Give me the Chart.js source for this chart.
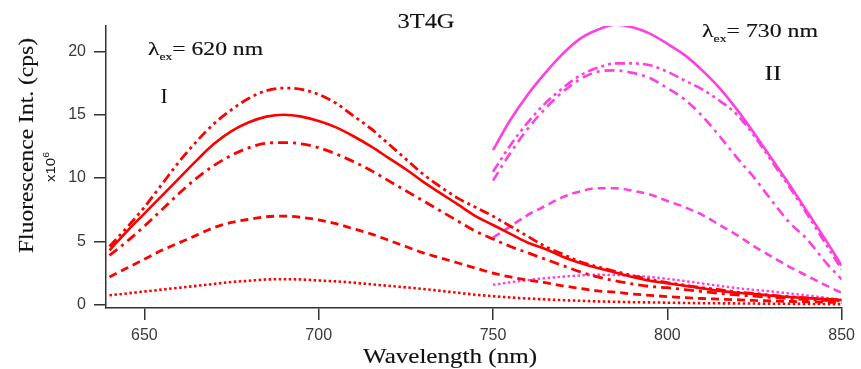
<!DOCTYPE html>
<html>
<head>
<meta charset="utf-8">
<script src="https://cdn.jsdelivr.net/npm/chart.js@4.4.1/dist/chart.umd.min.js"></script>
<style>
html,body{margin:0;padding:0;background:#fff;}
#wrap{width:861px;height:369px;position:relative;}
</style>
</head>
<body>
<div id="wrap"><canvas id="c" width="861" height="369"></canvas></div>
<script>
// ---- data ----
const wavelengthsRed = [640,645,650,655,660,665,670,675,680,685,690,695,700,705,710,715,720,725,730,735,740,745,750,755,760,765,770,775,780,785,790,795,800,805,810,815,820,825,830,835,840,845,850];
const redDashDotDot = [4.6,6.1,7.7,9.5,11.3,12.9,14.3,15.4,16.3,16.9,17.1,17.0,16.6,15.9,14.9,13.9,12.7,11.5,10.3,9.3,8.4,7.7,7.0,6.2,5.4,4.6,4.0,3.4,3.0,2.65,2.3,2.0,1.75,1.55,1.35,1.2,1.0,0.9,0.75,0.65,0.55,0.45,0.4];
const redSolid = [4.3,5.8,7.2,8.6,10.0,11.4,12.7,13.7,14.4,14.85,15.0,14.85,14.5,14.0,13.3,12.5,11.6,10.7,9.7,8.8,7.9,7.0,6.3,5.6,4.9,4.4,3.8,3.3,2.9,2.55,2.2,1.9,1.7,1.5,1.3,1.1,0.95,0.85,0.72,0.62,0.53,0.45,0.38];
const redDashDot = [3.9,5.0,6.2,7.5,8.8,10.0,11.0,11.8,12.4,12.75,12.8,12.7,12.4,11.9,11.3,10.6,9.8,9.0,8.2,7.4,6.6,5.8,5.2,4.6,4.1,3.6,3.1,2.6,2.2,1.9,1.65,1.45,1.35,1.2,1.05,0.9,0.78,0.68,0.58,0.5,0.42,0.35,0.3];
const redDashed = [2.2,2.9,3.6,4.3,4.9,5.5,6.1,6.5,6.75,6.95,7.0,6.9,6.7,6.4,6.0,5.6,5.1,4.6,4.1,3.7,3.3,2.9,2.5,2.2,1.95,1.75,1.5,1.3,1.1,1.0,0.85,0.75,0.65,0.57,0.5,0.45,0.4,0.35,0.3,0.27,0.24,0.21,0.18];
const redDotted = [0.75,0.9,1.05,1.2,1.35,1.5,1.65,1.8,1.9,2.0,2.02,2.0,1.92,1.85,1.75,1.62,1.5,1.38,1.25,1.1,0.95,0.8,0.68,0.58,0.5,0.43,0.37,0.32,0.27,0.24,0.21,0.19,0.17,0.15,0.13,0.12,0.11,0.1,0.09,0.08,0.07,0.06,0.05];

const wavelengthsMag = [750,755,760,765,770,775,780,785,790,795,800,805,810,815,820,825,830,835,840,845,850];
const magSolid = [12.2,14.6,16.6,18.3,19.8,21.0,21.7,22.1,21.9,21.4,20.6,19.7,18.5,17.1,15.4,13.5,11.5,9.5,7.4,5.3,3.1];
const magDashDotDot = [10.5,12.6,14.4,15.9,17.1,18.1,18.7,19.05,19.05,18.9,18.4,17.7,17.0,16.1,15.0,13.3,11.3,9.3,7.2,5.0,2.8];
const magDashDot = [9.8,12.0,13.9,15.5,16.8,17.8,18.4,18.5,18.3,17.9,17.1,16.2,14.9,13.3,11.6,10.0,8.2,6.5,5.2,3.5,2.0];
const magDashed = [5.3,6.2,7.1,7.8,8.5,8.95,9.2,9.2,9.0,8.7,8.2,7.7,7.1,6.3,5.5,4.6,3.8,3.0,2.3,1.6,0.95];
const magDotted = [1.58,1.78,1.95,2.1,2.22,2.32,2.37,2.35,2.3,2.2,2.05,1.88,1.68,1.5,1.32,1.18,1.05,0.9,0.75,0.57,0.4];

const xTicks = [650,700,750,800,850];
const yTicks = [0,5,10,15,20];

// ---- styles ----
const RED = 'rgb(255,0,0)';
const MAG = 'rgb(255,64,224)';
const DASH_DOT_DOT = [10,4,3,4,3,4];
const DASH_DOT = [10,5,3,5];
const DASHED = [8,5];
const DOTTED = [2.5,2.5];

function pts(xs, ys){ return xs.map((x,i)=>({x:x, y:ys[i]})); }
function ds(xs, ys, color, dash, w){
  return {data: pts(xs, ys), borderColor: color, borderWidth: w || 2.6, borderDash: dash,
          pointRadius: 0, fill: false, cubicInterpolationMode: 'monotone', borderCapStyle: 'butt'};
}

const datasets = [
  ds(wavelengthsRed, redDotted, RED, DOTTED, 2.6),
  ds(wavelengthsRed, redDashed, RED, DASHED, 2.8),
  ds(wavelengthsRed, redDashDot, RED, DASH_DOT, 2.8),
  ds(wavelengthsRed, redSolid, RED, [], 2.6),
  ds(wavelengthsRed, redDashDotDot, RED, DASH_DOT_DOT, 2.8),
  ds(wavelengthsMag, magDotted, MAG, DOTTED, 2.4),
  ds(wavelengthsMag, magDashed, MAG, DASHED, 2.6),
  ds(wavelengthsMag, magDashDot, MAG, DASH_DOT, 2.6),
  ds(wavelengthsMag, magDashDotDot, MAG, DASH_DOT_DOT, 2.6),
  ds(wavelengthsMag, magSolid, MAG, [], 2.6)
];

const SERIF = '"Liberation Serif", "DejaVu Serif", serif';
const SANS = '"Liberation Sans", Arial, sans-serif';

// draw a sequence of text parts, stretched horizontally to a target width
function drawParts(ctx, parts, x, y, targetW, align, rot, heavy){
  ctx.save();
  let total = 0;
  parts.forEach(p=>{ ctx.font = p.font; p.w = ctx.measureText(p.t).width; total += p.w; });
  const s = targetW ? targetW/total : 1;
  ctx.translate(x, y);
  if (rot) ctx.rotate(rot);
  ctx.scale(s, 1);
  let cx = align === 'center' ? -total/2 : 0;
  ctx.fillStyle = '#111';
  ctx.strokeStyle = '#111';
  ctx.lineWidth = heavy || 0;
  ctx.textBaseline = 'alphabetic';
  ctx.textAlign = 'left';
  parts.forEach(p=>{
    ctx.font = p.font;
    ctx.fillText(p.t, cx, p.dy || 0);
    if (heavy) ctx.strokeText(p.t, cx, p.dy || 0);
    cx += p.w;
  });
  ctx.restore();
}

const textPlugin = {
  id: 'texts',
  afterDraw(chart){
    const ctx = chart.ctx;
    const H = 0.15;
    drawParts(ctx, [{t:'3T4G', font:'21px '+SERIF}], 426, 28, 57, 'center', 0, H);
    drawParts(ctx, [{t:'λ', font:'19px '+SERIF},{t:'ex', font:'11px '+SERIF, dy:5},{t:'= 620 nm', font:'19px '+SERIF}], 148, 55, 115, 'left', 0, H);
    drawParts(ctx, [{t:'I', font:'20px '+SERIF}], 164, 103, 0, 'center', 0, H);
    drawParts(ctx, [{t:'λ', font:'19px '+SERIF},{t:'ex', font:'11px '+SERIF, dy:5},{t:'= 730 nm', font:'19px '+SERIF}], 702, 37, 116, 'left', 0, H);
    drawParts(ctx, [{t:'II', font:'20px '+SERIF}], 773, 80, 17, 'center', 0, H);
    drawParts(ctx, [{t:'Wavelength (nm)', font:'21px '+SERIF}], 450, 363, 174, 'center', 0, H);
    drawParts(ctx, [{t:'Fluorescence Int. (cps)', font:'22px '+SERIF}], 33, 145.5, 215, 'center', -Math.PI/2, H);
    drawParts(ctx, [{t:'x10', font:'13px '+SANS},{t:'6', font:'9px '+SANS, dy:-6}], 55, 167, 30, 'center', -Math.PI/2, 0);
  }
};

new Chart(document.getElementById('c'), {
  type: 'line',
  data: { datasets: datasets },
  options: {
    responsive: false,
    animation: false,
    events: [],
    layout: { padding: { top: 26, right: 14, left: 0, bottom: 0 } },
    plugins: { legend: { display: false }, tooltip: { enabled: false }, title: { display: false } },
    scales: {
      x: {
        type: 'linear', min: 639, max: 850,
        afterBuildTicks: s => { s.ticks = xTicks.map(v => ({value: v})); },
        afterFit: s => { s.height = 61; },
        grid: { display: true, drawOnChartArea: false, drawTicks: true, tickLength: 12, color: '#333', lineWidth: 1.5 },
        border: { display: true, color: '#333', width: 1.5 },
        ticks: { color: '#3a3a3a', font: { family: SANS, size: 16 }, padding: 6, maxRotation: 0, autoSkip: false }
      },
      y: {
        type: 'linear', min: -0.25, max: 22,
        afterBuildTicks: s => { s.ticks = yTicks.map(v => ({value: v})); },
        afterFit: s => { s.width = 106; },
        grid: { display: true, drawOnChartArea: false, drawTicks: true, tickLength: 12, color: '#333', lineWidth: 1.5 },
        border: { display: true, color: '#333', width: 1.5 },
        ticks: { color: '#3a3a3a', font: { family: SANS, size: 16 }, padding: 8, autoSkip: false }
      }
    }
  },
  plugins: [textPlugin]
});
</script>
</body>
</html>
